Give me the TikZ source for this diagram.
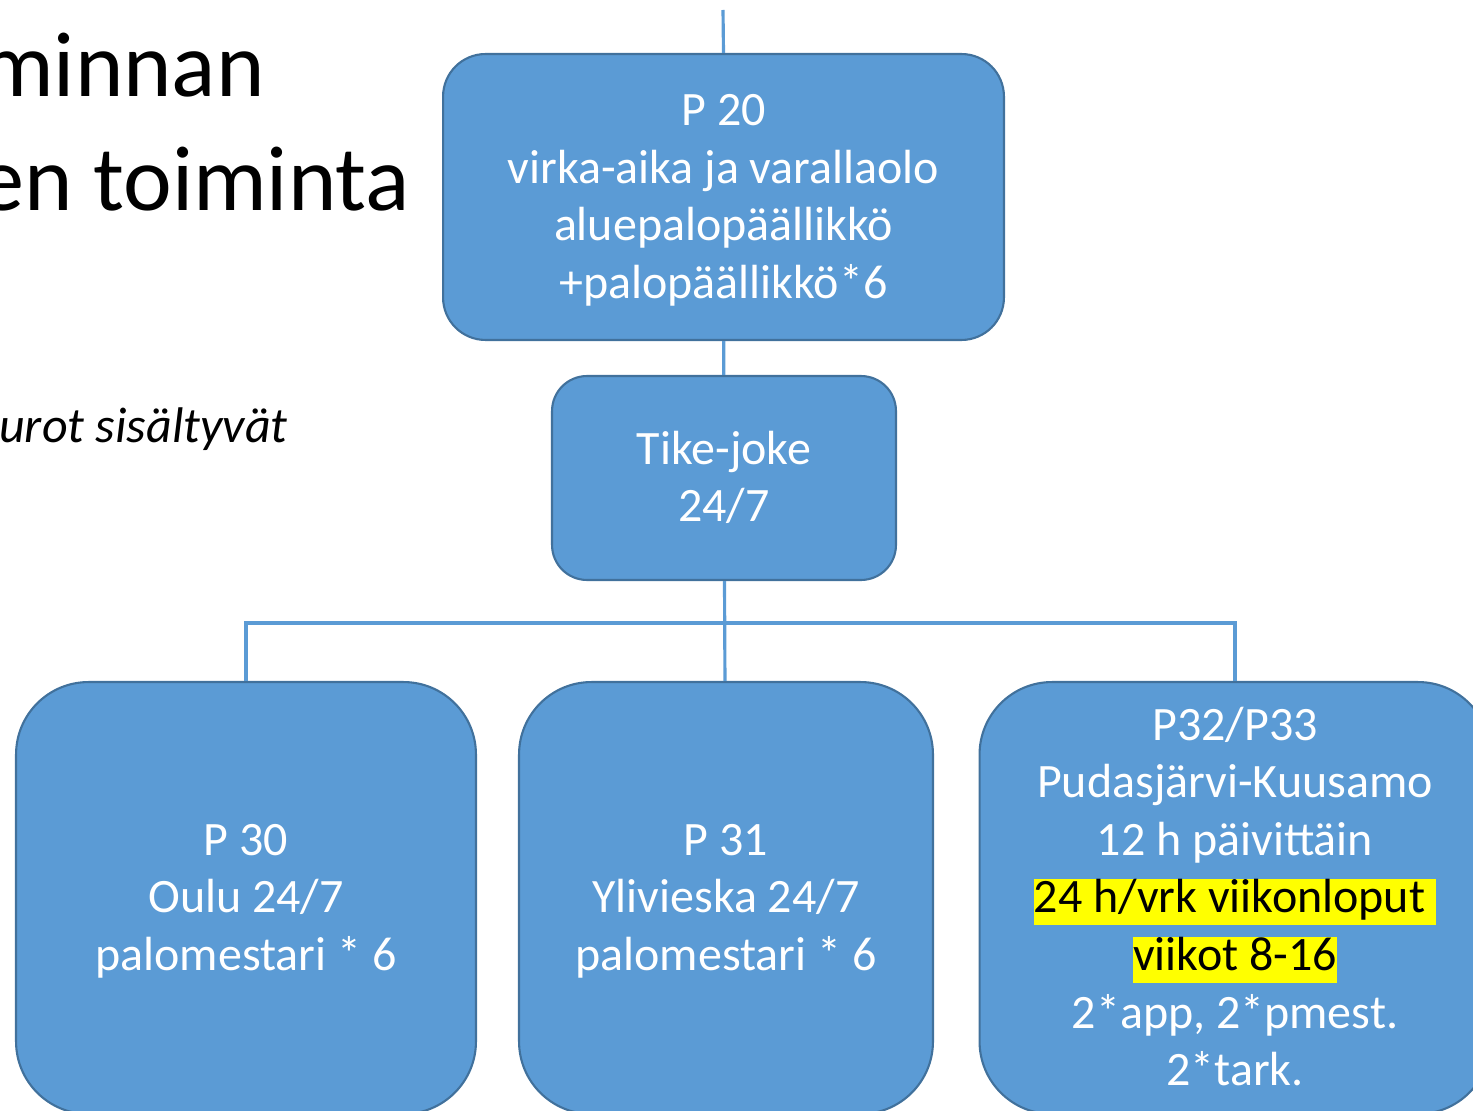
\documentclass[tikz,border=0pt]{standalone}
\usepackage{fontspec}
\setmainfont{Carlito}
\usepackage{tikz}
\usepackage{xcolor}
\definecolor{boxfill}{HTML}{5B9BD5}
\definecolor{boxedge}{HTML}{41719C}
\definecolor{hlyellow}{HTML}{FFFF00}
\newcommand{\hlite}[1]{{\setlength{\fboxsep}{0pt}\colorbox{hlyellow}{\rule[-6.8pt]{0pt}{26pt}\color{black}#1}}}
\newcommand{\linetop}{\rule{0pt}{26pt}}

\begin{document}
\begin{tikzpicture}[
    x=0.02cm, y=-0.02cm,
    unit/.style={draw=boxedge, line width=1.2pt, fill=boxfill, rectangle, text=white, align=center,
        font=\fontsize{27.3}{32.8}\selectfont, inner sep=0pt,
        execute at end node={\rule[-9pt]{0pt}{0pt}}},
    conn/.style={draw=boxfill, line width=1.8pt}
]
\useasboundingbox (0,0) rectangle (1473,1111);
\clip (0,0) rectangle (1473,1111);

% Title text, cut at the left edge
\node[anchor=base east, font=\fontsize{52.5}{62}\selectfont, inner sep=0pt] (title1) at (265,97) {minnan};
\node[anchor=base east, font=\fontsize{52.5}{62}\selectfont, inner sep=0pt] (title2) at (410,211) {en toiminta};
\node[anchor=base east, font=\fontsize{28.5}{34}\itshape, inner sep=0pt] (note) at (288,442) {urot sisältyvät};

% Boxes
\node[unit, minimum width=11.22cm, minimum height=5.72cm, rounded corners=0.85cm] (p20) at (723.5,197)
    {\linetop P 20\\virka-aika ja varallaolo\\aluepalopäällikkö\\+palopäällikkö*6};
\node[unit, minimum width=6.88cm, minimum height=4.08cm, rounded corners=0.7cm] (tike) at (724,478)
    {\linetop Tike-joke\\24/7};
\node[unit, minimum width=9.2cm, minimum height=8.64cm, rounded corners=1.45cm] (p30) at (246,898)
    {\linetop P 30\\Oulu 24/7\\palomestari * 6};
\node[unit, minimum width=8.28cm, minimum height=8.64cm, rounded corners=1.45cm] (p31) at (726,898)
    {\linetop P 31\\Ylivieska 24/7\\palomestari * 6};
\node[unit, minimum width=10.22cm, minimum height=8.64cm, rounded corners=1.45cm] (p32) at (1235,898)
    {\linetop P32/P33\\Pudasjärvi-Kuusamo\\12 h päivittäin\\\hlite{24 h/vrk viikonloput\ }\\\hlite{viikot 8-16}\\2*app, 2*pmest.\\2*tark.};

% Connectors
\coordinate (top) at (723,10);
\coordinate (bus) at (725,623);
\draw[conn] (top) -- (p20.north);
\draw[conn] (p20) -- (tike);
\draw[conn] (tike) -- (p31);
\draw[conn] (p30.north) |- (bus) -| (p32.north);

\end{tikzpicture}
\end{document}
